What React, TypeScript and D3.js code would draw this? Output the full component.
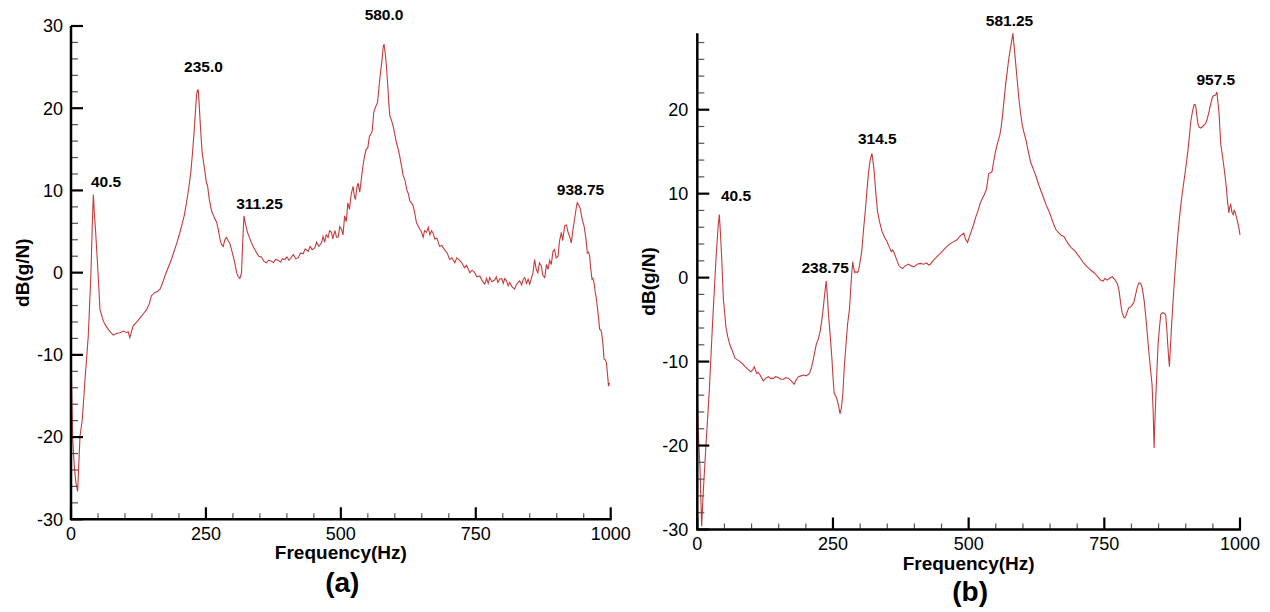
import React from 'react';
import * as d3 from 'd3';

// panel (a)
const freqA = [0, 1.5, 3, 6, 9, 12.3, 14, 16.7, 21, 26, 32, 37, 39.5, 41.4, 43.5, 45.7, 49.4, 53.7, 59.9, 65, 69, 74, 78.4, 84, 90.7, 98, 103, 106, 109, 112, 115, 122, 128, 134, 140, 145, 149, 155.6, 160, 165, 170, 174, 180, 186, 191, 196, 201, 205, 210, 214, 218, 222, 225, 228, 230.5, 232.7, 234.5, 235.8, 237.5, 239, 241, 243, 247, 251, 253, 256, 260.5, 265, 270, 273, 276, 279, 282, 285, 288, 291, 294, 297, 300.6, 304, 306.8, 310, 313, 316, 318, 320.5, 323, 327, 331, 334.6, 339, 344, 348, 353, 357, 362, 366, 371.6, 375, 379, 384, 388, 392, 396, 400, 404, 408.6, 412, 416, 421, 425, 430, 434, 439.5, 443, 447, 451.8, 455, 459, 464, 467, 470, 473, 476.5, 479, 482.7, 485, 489, 492, 495, 498, 501, 504, 507, 510, 513, 516, 519, 522.6, 525, 527, 530, 531.8, 535, 538, 541, 544, 547, 550, 553, 556, 558, 561, 564, 568, 572, 576.5, 578.5, 580, 582, 584, 587, 589, 590.7, 594, 597, 600, 603, 606, 609, 612, 615.5, 619, 622, 625, 628, 631, 634, 637, 640, 643, 646, 649, 652.5, 655, 658.6, 662, 665, 668, 671, 674, 678, 683, 687, 692, 697, 701.6, 706, 711, 715, 720, 724, 729, 733, 739, 743, 748, 752, 757.5, 762, 766.7, 770, 773, 776, 780, 785, 788, 791, 794, 798, 801, 803.7, 807, 810, 813, 817, 822, 825, 828, 831.5, 835, 838, 840.7, 844, 847, 850, 853, 856, 859, 862, 865, 868, 871.6, 874, 877.8, 881, 884, 887, 890, 893, 896, 899, 902.5, 905, 908.6, 911, 914.8, 918, 921, 924, 927, 930, 933, 936, 938, 941, 944, 947, 950.6, 954, 956.8, 959, 961, 963, 965.4, 967, 969, 971, 973.5, 977, 979.6, 982, 984, 986, 987.6, 990, 992, 994, 996, 998];
const dbA = [-8.7, -15, -20, -23.5, -25.5, -26.6, -24, -19.9, -17.8, -13, -7.7, 0, 6, 9.5, 7, 4.9, 0.8, -4.5, -5.9, -6.5, -6.9, -7.3, -7.6, -7.4, -7.3, -7.1, -7.3, -7.2, -7.9, -7.2, -6.5, -6.0, -5.5, -5.0, -4.5, -3.8, -2.8, -2.4, -2.3, -2.0, -1.2, -0.4, 0.6, 1.6, 2.6, 3.6, 4.7, 5.7, 7.0, 8.5, 10.2, 12.2, 14.5, 17, 19.5, 21.7, 22.2, 22.2, 20.5, 18.7, 16.5, 14.6, 12.8, 10.9, 10.6, 9.0, 7.5, 6.8, 6.1, 5.2, 4.1, 3.4, 3.2, 4.0, 4.3, 3.9, 3.6, 2.9, 2.0, 1.0, 0, -0.5, -0.7, 0, 3.5, 6.9, 6.0, 4.9, 4.2, 3.6, 3.0, 2.4, 2.0, 1.9, 1.4, 1.2, 1.5, 1.4, 1.2, 1.6, 1.5, 1.3, 1.7, 1.6, 1.9, 1.5, 1.9, 2.2, 1.7, 1.8, 2.4, 2.3, 2.9, 2.6, 3.2, 2.8, 3.0, 3.7, 3.2, 3.6, 4.4, 3.7, 4.6, 4.3, 5.1, 4.9, 4.1, 5.1, 4.3, 4.3, 5.6, 5.3, 4.6, 6.9, 6.2, 8.5, 7.7, 9.5, 10.5, 9.3, 8.9, 10.5, 10.9, 9.8, 11.4, 13, 14.2, 15, 15.2, 16.6, 16.9, 17.2, 19.5, 20.1, 20.7, 23.5, 26, 27.5, 27.8, 26.8, 25.5, 22.7, 20.5, 19.1, 18.5, 17.8, 16.8, 15.8, 15.1, 14.2, 13.1, 11.8, 11.2, 10.1, 9.6, 8.7, 8.5, 8.1, 7.2, 6.1, 5.7, 5.3, 5.0, 4.3, 5.1, 4.9, 5.5, 4.6, 5.1, 4.8, 4.1, 4.2, 3.2, 3.3, 2.8, 2.4, 1.6, 1.8, 1.2, 1.8, 1.5, 1.2, 0.6, 0.9, 0, 0.3, 0, -0.5, -0.4, -1.0, -1.4, -0.7, -1.3, -0.6, -1.1, -0.9, -0.5, -1.2, -0.8, -0.7, -1.3, -0.7, -1.0, -1.6, -1.2, -1.7, -2.0, -1.5, -1.2, -1.0, -1.5, -0.8, -0.6, -1.3, -0.8, -1.4, -0.7, 0, 1.6, 0.4, 0, 1.2, 0.8, -0.3, -0.6, 1.0, 0.4, 1.5, 1.0, 2.6, 2.8, 1.8, 2.0, 3.8, 4.9, 3.9, 5.7, 5.8, 4.9, 4.4, 3.6, 5.2, 6.5, 7.8, 8.5, 8.2, 7.7, 6.5, 5.7, 4.2, 2.4, 2.5, 2.0, 0.5, -0.8, -0.7, -1.2, -2.2, -3.2, -5.2, -6.9, -7.0, -7.7, -9.0, -10.5, -10.6, -10.9, -12.3, -13.8, -13.4];

// panel (b)
const freqB = [0, 2, 5, 8, 11, 16, 22, 28, 34.5, 38.5, 40.6, 42.5, 45, 48, 53, 56, 60, 65, 69.5, 74, 78.8, 84, 88, 93, 98.4, 102, 105, 107, 109.5, 112, 115.7, 119, 121.8, 126, 131, 135, 140, 144, 149.5, 154, 158.7, 163, 168, 173, 178.4, 182, 186.4, 191, 195.6, 201, 206.7, 210, 212.9, 216, 219, 223, 226.4, 230, 232.6, 235, 237.5, 239.5, 241.8, 245, 248, 250, 252.2, 255, 257, 260, 263, 265.5, 268, 271, 274.4, 277, 280.5, 283, 284.8, 286.5, 288, 290, 292, 295, 297, 300, 303, 306, 309.5, 312.5, 315.6, 318.5, 321.8, 323.5, 326, 329, 332, 336, 340.4, 345, 349.5, 354, 357.5, 360, 363, 367, 371, 375, 378.4, 383, 389.4, 394, 400, 405, 411, 417, 423, 426, 429.4, 434, 438.7, 445, 451, 457, 463, 470, 478.6, 485, 491, 494, 498, 502, 509, 513, 518, 521, 525, 529, 533, 535, 537, 540, 543, 546, 549.5, 553, 557.5, 560, 562, 565, 568, 571, 574, 578, 581.5, 584, 586.4, 589.5, 592.5, 595.5, 598.7, 601.5, 604.8, 609, 614, 617, 620, 625, 629.4, 634, 638.7, 643, 648, 652, 657, 661, 666.4, 671, 675.6, 680, 684.8, 690, 697, 701, 706, 711, 715.5, 720, 724.8, 729, 734, 738, 743, 748, 751, 755.6, 759, 764.8, 769, 774, 777, 779, 781, 783, 786, 788, 790, 792, 795, 798, 801, 804.6, 807, 810.9, 814, 817, 819, 821, 823.5, 826, 829, 832, 835, 838, 840, 841.7, 843, 844.8, 847, 849, 851.5, 854, 856.5, 859, 861, 863, 865, 866.5, 868.5, 870, 872, 874, 876.5, 879, 882, 885, 888, 891, 894.5, 898.3, 901.5, 904.5, 907, 909.3, 912.5, 915.5, 917, 918.5, 920.5, 922.8, 925, 927.7, 931, 934, 937, 940, 943, 946, 949.3, 951.5, 953.6, 955.5, 957.3, 959.5, 961.6, 963, 964.7, 967.5, 970.8, 973, 975, 977, 979.5, 981, 983, 985, 987.4, 989, 990.5, 993, 995.4, 998, 1000];
const dbB = [-13.6, -18.7, -22.7, -29.6, -25.5, -19.9, -13.6, -5.6, 2.3, 6.2, 7.5, 5.5, 2.3, -2.5, -6.0, -7.0, -8.0, -8.8, -9.6, -9.8, -10, -10.3, -10.6, -10.9, -11.2, -11.0, -10.6, -11.0, -11.4, -11.3, -11.6, -12.0, -12.3, -12.0, -11.8, -12.0, -12.0, -11.8, -11.9, -12.1, -12.1, -11.9, -12.0, -12.3, -12.7, -12.2, -11.8, -11.7, -11.6, -11.7, -11.4, -10.8, -10, -9.0, -8.0, -7.3, -6.4, -4.8, -3.3, -1.8, -0.4, -2.0, -4.4, -7.0, -9.6, -11.8, -13.8, -14.1, -14.4, -15.2, -16.2, -15.5, -14, -10.5, -7.6, -5.5, -3.7, -1.0, 0.7, 1.9, 1.2, 0.6, 0.7, 0.6, 0.8, 1.9, 3.1, 5.5, 7.9, 10.3, 12.6, 14.0, 14.8, 14.0, 12.6, 10, 7.9, 6.6, 5.5, 4.8, 4.3, 3.6, 3.1, 3.3, 2.9, 2.2, 1.5, 1.2, 1.1, 1.4, 1.6, 1.4, 1.3, 1.6, 1.7, 1.6, 1.75, 1.5, 1.6, 2.0, 2.3, 2.7, 3.1, 3.5, 3.9, 4.2, 4.5, 5.0, 5.3, 4.6, 4.2, 5.0, 6.3, 7.2, 8.1, 8.8, 9.4, 9.9, 10.6, 11.5, 12.4, 12.5, 12.6, 13.8, 15, 16.0, 17, 18.0, 19, 21.0, 22.9, 24.5, 26.1, 27.7, 29.1, 27.4, 25.7, 23.5, 21.3, 19.7, 18.2, 17.4, 16.6, 15.3, 13.8, 13.3, 12.8, 11.9, 11, 10.2, 9.4, 8.6, 7.9, 7.2, 6.3, 5.7, 5.3, 5.0, 4.9, 4.4, 3.9, 3.5, 3.1, 2.7, 2.3, 1.8, 1.5, 1.2, 0.9, 0.7, 0.4, 0.1, -0.3, -0.4, -0.1, -0.3, -0.1, 0.1, -0.2, -0.7, -1.5, -2.5, -3.5, -4.2, -4.7, -4.8, -4.5, -4.1, -3.6, -3.5, -3.3, -2.9, -2.2, -1.1, -0.6, -0.7, -1.0, -1.7, -2.8, -4.4, -6.5, -8.8, -10.8, -12.8, -16, -20.3, -17.5, -14.4, -11, -8.0, -6.0, -4.4, -4.2, -4.2, -4.3, -4.4, -6.0, -7.6, -9.5, -10.6, -8.0, -5.6, -3.0, -0.5, 2.2, 4.7, 6.8, 8.7, 10.5, 12.2, 13.8, 15.4, 17.0, 18.6, 19.8, 20.6, 20.6, 20.4, 19.3, 18.2, 17.9, 17.8, 18.0, 18.2, 18.4, 19.0, 19.8, 20.7, 21.5, 21.7, 21.7, 21.8, 22.1, 20.8, 19.4, 17.7, 15.8, 14.6, 13, 11.8, 10.6, 9.1, 7.7, 8.4, 8.7, 7.8, 7.5, 8.0, 7.9, 7.3, 6.7, 5.9, 5.1];

// peak annotations (text, where the label sits in data units)
const peakTextA = ['40.5', '235.0', '311.25', '580.0', '938.75'];
const peakFreqA = [64.9, 245.5, 349.3, 580, 944];
const peakDbA = [10.4, 24.4, 7.7, 30.7, 9.4];
const peakTextB = ['40.5', '238.75', '314.5', '581.25', '957.5'];
const peakFreqB = [71.4, 235.7, 331.7, 575.3, 955.5];
const peakDbB = [9.1, 0.56, 15.9, 30.0, 22.9];

const xTicks = [0, 250, 500, 750, 1000];
const yTicksA = [-30, -20, -10, 0, 10, 20, 30];
const yTicksB = [-30, -20, -10, 0, 10, 20];

const FONT = 'Arial, "Liberation Sans", sans-serif';
const LINE = '#c43b3b';

function Panel({ freq, db, peakText, peakFreq, peakDb, yTicks, yMax, box, caption }) {
	const x = d3.scaleLinear().domain([0, 1000]).range([box.x0, box.x1]);
	const y = d3.scaleLinear().domain([-30, yMax]).range([box.yb, box.yt]);
	const line = d3.line().x(d => x(d[0])).y(d => y(d[1]));
	const pts = freq.map((f, i) => [f, db[i]]);
	const xMinor = d3.range(0, 1001, 50).filter(v => v % 250 !== 0);
	const yMinor = d3.range(-30, yMax, 2).filter(v => v % 10 !== 0);
	const cx = (box.x0 + box.x1) / 2;
	const cy = (box.yt + box.yb) / 2;
	return (
		<g>
			<path d={line(pts)} fill="none" stroke={LINE} strokeWidth={1.1} />
			{xMinor.map(v => <line key={'xm' + v} x1={x(v)} x2={x(v)} y1={box.yb} y2={box.yb - 6} stroke="#555" strokeWidth={1.2} />)}
			{yMinor.map(v => <line key={'ym' + v} x1={box.x0} x2={box.x0 + 7} y1={y(v)} y2={y(v)} stroke="#555" strokeWidth={1.2} />)}
			{xTicks.map(v => <line key={'xt' + v} x1={x(v)} x2={x(v)} y1={box.yb} y2={box.yb - 12} stroke="#000" strokeWidth={2.2} />)}
			{yTicks.map(v => <line key={'yt' + v} x1={box.x0} x2={box.x0 + 12} y1={y(v)} y2={y(v)} stroke="#000" strokeWidth={2.2} />)}
			<line x1={box.x0} x2={box.x1 + 1} y1={box.yb} y2={box.yb} stroke="#000" strokeWidth={2.5} />
			<line x1={box.x0} x2={box.x0} y1={box.yt} y2={box.yb + 1} stroke="#000" strokeWidth={2.5} />
			{xTicks.map(v => (
				<text key={'xl' + v} x={x(v)} y={box.yb + 20.5} textAnchor="middle" fontSize={18} fontFamily={FONT}>{v}</text>
			))}
			{yTicks.map(v => (
				<text key={'yl' + v} x={box.x0 - box.lg} y={y(v) + 6.4} textAnchor="end" fontSize={18} fontFamily={FONT}>{v}</text>
			))}
			{peakText.map((t, i) => (
				<text key={'p' + i} x={x(peakFreq[i])} y={y(peakDb[i])} textAnchor="middle" fontSize={15.5} fontWeight="bold" fontFamily={FONT}>{t}</text>
			))}
			<text x={cx} y={box.yb + 40} textAnchor="middle" fontSize={19} fontWeight="bold" fontFamily={FONT}>Frequency(Hz)</text>
			<text transform={`translate(${box.x0 - 42}, ${cy}) rotate(-90)`} textAnchor="middle" fontSize={19} fontWeight="bold" fontFamily={FONT}>dB(g/N)</text>
			<text x={cx + 1.5} y={box.yb + box.cap} textAnchor="middle" fontSize={28} fontWeight="bold" fontFamily={FONT}>{caption}</text>
		</g>
	);
}

export default function App() {
	return (
		<svg width={1270} height={612} style={{ position: 'absolute', left: 0, top: 0, background: '#fff' }}>
			<Panel freq={freqA} db={dbA} peakText={peakTextA} peakFreq={peakFreqA} peakDb={peakDbA}
				yTicks={yTicksA} yMax={30} caption="(a)"
				box={{ x0: 71, x1: 610.7, yt: 26, yb: 519.3, lg: 8, cap: 73 }} />
			<Panel freq={freqB} db={dbB} peakText={peakTextB} peakFreq={peakFreqB} peakDb={peakDbB}
				yTicks={yTicksB} yMax={29.1} caption="(b)"
				box={{ x0: 697.3, x1: 1240, yt: 33.3, yb: 529.5, lg: 9, cap: 71.3 }} />
		</svg>
	);
}
